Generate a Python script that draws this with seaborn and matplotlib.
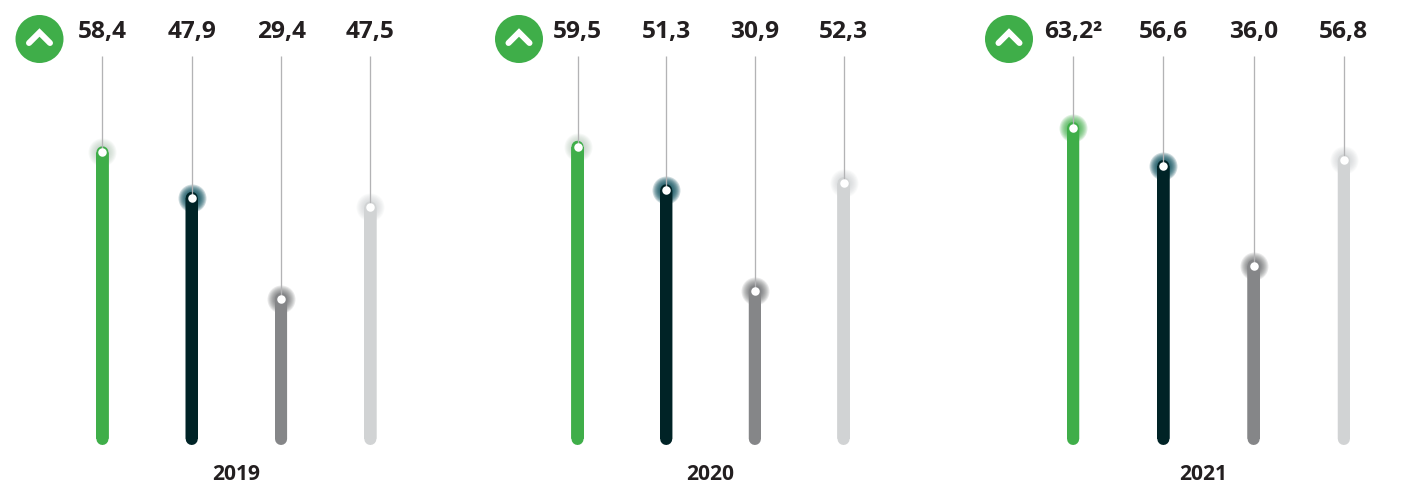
import matplotlib
matplotlib.use("Agg")
import matplotlib.pyplot as plt
import pandas as pd
import seaborn as sns
from matplotlib.lines import Line2D
from matplotlib.patches import Circle

# -----------------------------
# DATA
# -----------------------------

YEARS = ["2019", "2020", "2021"]
SERIES = ["A", "B", "C", "D"]

# bar heights as drawn in the picture (the dark bars sit off their printed number)
VALUES_2019 = [58.4, 49.4, 29.4, 47.5]
VALUES_2020 = [59.5, 50.9, 30.9, 52.3]
VALUES_2021 = [63.2, 55.7, 36.0, 56.8]

LABELS_2019 = ["58,4", "47,9", "29,4", "47,5"]
LABELS_2020 = ["59,5", "51,3", "30,9", "52,3"]
LABELS_2021 = ["63,2²", "56,6", "36,0", "56,8"]

# -----------------------------
# STYLE
# -----------------------------

W, H = 1407, 485
DPI = 100
PX = 72 / DPI

BAR_COLORS = ["#3fae49", "#002326", "#858688", "#d1d3d4"]
HALO_COLORS = {
    "2019": ["#a9bfad", "#0b4f5c", "#55575a", "#c3c8ca"],
    "2020": ["#a9bfad", "#0b4f5c", "#55575a", "#c3c8ca"],
    "2021": ["#3fae49", "#0b4f5c", "#55575a", "#c3c8ca"],
}
HALO_ALPHA = [0.09, 0.2, 0.12, 0.09]
TEXT_COLOR = "#231f20"
LINE_COLOR = "#b3b3b5"

# left edge and width of each panel (px)
PANELS = {"2019": (57.8, 357.2), "2020": (533.2, 354.7), "2021": (1028.0, 361.0)}
ICON_X = {"2019": 39.5, "2020": 519.0, "2021": 1009.0}
YEAR_SHIFT = {"2019": 0, "2020": 0, "2021": -5}
ZERO_Y = 448.8  # pixel row of value 0
SCALE = 5.06  # px per unit
LINE_TOP = 57
Y_MAX = (ZERO_Y - LINE_TOP) / SCALE
BAR_START = (ZERO_Y - 440) / SCALE  # bar end sits above its rounded tip


def draw_year(fig, year, values, labels):
    left, width = PANELS[year]
    ax = fig.add_axes([left / W, 1 - ZERO_Y / H, width / W, (ZERO_Y - LINE_TOP) / H])

    df = pd.DataFrame({"series": SERIES, "value": values})
    sns.barplot(
        data=df, x="series", y="value", hue="series", order=SERIES, hue_order=SERIES,
        palette=BAR_COLORS, saturation=1, dodge=False, legend=False, width=0.001, ax=ax, zorder=2
    )

    # thick round edge on a hairline bar gives the pill shape
    for patch, value, color in zip(ax.patches, values, BAR_COLORS):
        patch.set_y(BAR_START)
        patch.set_height(value - BAR_START)
        patch.set_edgecolor(color)
        patch.set_linewidth(12 * PX)
        patch.set_joinstyle("round")
        patch.set_snap(False)
        patch.set_clip_on(False)

    ax.set_xlim(-0.5, 3.5)
    ax.set_ylim(0, Y_MAX)
    ax.axis("off")

    for i, (value, label) in enumerate(zip(values, labels)):
        halo = HALO_COLORS[year][i]
        alpha = 0.16 if year == "2021" and i == 0 else HALO_ALPHA[i]
        for r in range(14, 4, -1):
            ax.scatter(i, value, s=(2 * r * PX) ** 2, color=halo, alpha=alpha,
                       linewidths=0, zorder=1, clip_on=False)
        ax.vlines(i, value, Y_MAX, color=LINE_COLOR, lw=1.3 * PX, zorder=3)
        ax.scatter(i, value, s=(8.5 * PX) ** 2, color="white", linewidths=0, zorder=4, clip_on=False)
        ax.annotate(label, (i, Y_MAX), xytext=(0, (LINE_TOP - 32) * PX), textcoords="offset points",
                    ha="center", va="center", fontsize=24.5 * PX, fontweight="bold",
                    color=TEXT_COLOR, annotation_clip=False)

    ax.annotate(year, (1.5, 0), xytext=(YEAR_SHIFT[year] * PX, -(474.5 - ZERO_Y) * PX),
                textcoords="offset points", ha="center", va="center",
                fontsize=21 * PX, fontweight="bold", color=TEXT_COLOR, annotation_clip=False)


def draw_icons(fig):
    ax = fig.add_axes([0, 0, 1, 1], xlim=(0, W), ylim=(H, 0))
    ax.axis("off")
    for year in YEARS:
        cx = ICON_X[year]
        ax.add_patch(Circle((cx, 40), 24, color="#3fae49", lw=0))
        ax.add_line(Line2D([cx - 10.5, cx, cx + 10.5], [44, 33.5, 44], color="white",
                           lw=6 * PX, solid_capstyle="round", solid_joinstyle="miter"))


def main():
    sns.set_theme(style="white")
    plt.rcParams["font.family"] = ["Open Sans", "DejaVu Sans"]

    fig = plt.figure(figsize=(W / DPI, H / DPI), dpi=DPI)
    draw_year(fig, "2019", VALUES_2019, LABELS_2019)
    draw_year(fig, "2020", VALUES_2020, LABELS_2020)
    draw_year(fig, "2021", VALUES_2021, LABELS_2021)
    draw_icons(fig)
    fig.savefig("out.png", dpi=DPI)
    plt.close(fig)


if __name__ == "__main__":
    main()
